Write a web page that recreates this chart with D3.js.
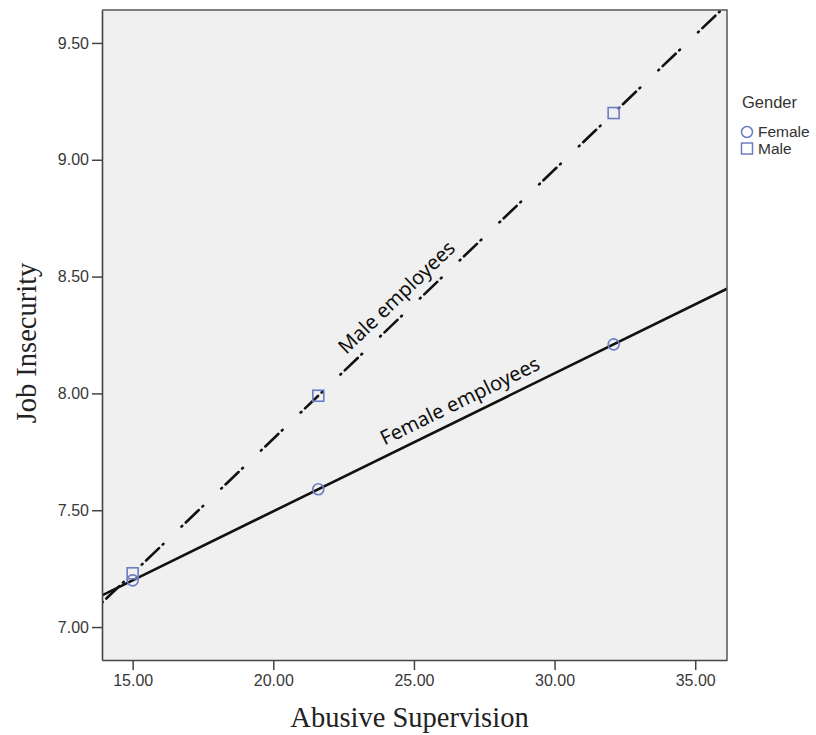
<!DOCTYPE html>
<html>
<head>
<meta charset="utf-8">
<script src="https://cdn.jsdelivr.net/npm/d3@7"></script>
<style>
  body { margin: 0; background: #fff; }
</style>
</head>
<body>
<svg id="chart"></svg>
<script>
// Data
const xLevels = [15.0, 21.6, 32.1]
const femaleValues = [7.20, 7.59, 8.21]
const maleValues = [7.23, 7.99, 9.20]
const xTicks = [15, 20, 25, 30, 35]
const yTicks = [7.0, 7.5, 8.0, 8.5, 9.0, 9.5]
const legendLabels = ["Female", "Male"]

const width = 816
const height = 735
const plot = { left: 102, top: 10, right: 727, bottom: 660 }
const markerColor = "#6c7cc4"

const svg = d3.select("#chart")
  .attr("width", width)
  .attr("height", height)

const x = d3.scaleLinear().domain([13.91, 36.13]).range([plot.left, plot.right])
const y = d3.scaleLinear().domain([6.859, 9.641]).range([plot.bottom, plot.top])

// Plot background
svg.append("rect")
  .attr("x", plot.left)
  .attr("y", plot.top)
  .attr("width", plot.right - plot.left)
  .attr("height", plot.bottom - plot.top)
  .attr("fill", "#f0f0f0")

svg.append("clipPath")
  .attr("id", "clip")
  .append("rect")
  .attr("x", plot.left)
  .attr("y", plot.top)
  .attr("width", plot.right - plot.left)
  .attr("height", plot.bottom - plot.top)

// least squares fit for each group
function fit(xs, ys) {
  const mx = d3.mean(xs), my = d3.mean(ys)
  const b = d3.sum(xs, (v, i) => (v - mx) * (ys[i] - my)) / d3.sum(xs, v => (v - mx) ** 2)
  return { a: my - b * mx, b }
}

const groups = [
  { name: "Female", values: femaleValues, dash: null, label: "Female employees", at: 26.9 },
  { name: "Male", values: maleValues, dash: "1,5,18,5,1,25", label: "Male employees", at: 24.8 }
]

const lineLayer = svg.append("g").attr("clip-path", "url(#clip)")

groups.forEach(g => {
  const f = fit(xLevels, g.values)
  const dom = x.domain()
  const ends = dom.map(v => [v, f.a + f.b * v])

  lineLayer.append("path")
    .datum(ends)
    .attr("d", d3.line().x(d => x(d[0])).y(d => y(d[1])))
    .attr("fill", "none")
    .attr("stroke", "#111")
    .attr("stroke-width", 2.6)
    .attr("stroke-linecap", "round")
    .attr("stroke-dasharray", g.dash)

  // label along the line
  const px = x(g.at), py = y(f.a + f.b * g.at)
  const angle = Math.atan2(y(f.a + f.b * (g.at + 1)) - py, x(g.at + 1) - px) * 180 / Math.PI
  svg.append("text")
    .attr("transform", `translate(${px},${py}) rotate(${angle})`)
    .attr("y", -10)
    .attr("text-anchor", "middle")
    .attr("font-family", "'Noto Sans', sans-serif")
    .attr("font-size", 20)
    .attr("fill", "#111")
    .text(g.label)
})

// Markers
const pts = svg.append("g")
pts.selectAll("circle")
  .data(xLevels.map((v, i) => [v, femaleValues[i]]))
  .join("circle")
  .attr("cx", d => x(d[0]))
  .attr("cy", d => y(d[1]))
  .attr("r", 5.5)
  .attr("fill", "none")
  .attr("stroke", markerColor)
  .attr("stroke-width", 1.6)

pts.selectAll("rect")
  .data(xLevels.map((v, i) => [v, maleValues[i]]))
  .join("rect")
  .attr("x", d => x(d[0]) - 5.5)
  .attr("y", d => y(d[1]) - 5.5)
  .attr("width", 11)
  .attr("height", 11)
  .attr("fill", "none")
  .attr("stroke", markerColor)
  .attr("stroke-width", 1.6)

// Frame (top and right)
svg.append("path")
  .attr("d", `M${plot.left},${plot.top}H${plot.right}V${plot.bottom}`)
  .attr("fill", "none")
  .attr("stroke", "#555")
  .attr("stroke-width", 1.5)

// Axes
svg.append("g")
  .attr("transform", `translate(0,${plot.bottom})`)
  .call(d3.axisBottom(x)
    .tickValues(xTicks)
    .tickFormat(d3.format(".2f"))
    .tickSize(10)
    .tickSizeOuter(0)
    .tickPadding(5))
  .call(g => g.select(".domain").attr("stroke", "#444").attr("stroke-width", 1.6))
  .call(g => g.selectAll(".tick line").attr("stroke", "#444").attr("stroke-width", 1.5))
  .call(g => g.selectAll(".tick text")
    .attr("font-family", "'Liberation Sans', Arial, sans-serif")
    .attr("font-size", 16)
    .attr("fill", "#383838"))

svg.append("g")
  .attr("transform", `translate(${plot.left},0)`)
  .call(d3.axisLeft(y)
    .tickValues(yTicks)
    .tickFormat(d3.format(".2f"))
    .tickSize(10)
    .tickSizeOuter(0)
    .tickPadding(3))
  .call(g => g.select(".domain").attr("stroke", "#444").attr("stroke-width", 1.6))
  .call(g => g.selectAll(".tick line").attr("stroke", "#444").attr("stroke-width", 1.5))
  .call(g => g.selectAll(".tick text")
    .attr("font-family", "'Liberation Sans', Arial, sans-serif")
    .attr("font-size", 16)
    .attr("fill", "#383838"))

// Axis titles
svg.append("text")
  .attr("x", (plot.left + plot.right) / 2 - 5)
  .attr("y", 727)
  .attr("text-anchor", "middle")
  .attr("font-family", "'Liberation Serif', 'Times New Roman', serif")
  .attr("font-size", 28.5)
  .attr("fill", "#222")
  .text("Abusive Supervision")

svg.append("text")
  .attr("transform", `translate(36,343) rotate(-90)`)
  .attr("text-anchor", "middle")
  .attr("font-family", "'Liberation Serif', 'Times New Roman', serif")
  .attr("font-size", 28.5)
  .attr("fill", "#222")
  .text("Job Insecurity")

// Legend
const legend = svg.append("g").attr("transform", "translate(742,0)")
legend.append("text")
  .attr("x", 0)
  .attr("y", 108)
  .attr("font-family", "'Liberation Sans', Arial, sans-serif")
  .attr("font-size", 16.5)
  .attr("fill", "#333")
  .text("Gender")

legend.selectAll("g.item")
  .data(legendLabels)
  .join("g")
  .attr("class", "item")
  .attr("transform", (d, i) => `translate(5,${132 + i * 16.5})`)
  .each(function(d, i) {
    const item = d3.select(this)
    if (i === 0) {
      item.append("circle").attr("r", 5.5)
    } else {
      item.append("rect").attr("x", -5.5).attr("y", -5.5).attr("width", 11).attr("height", 11)
    }
    item.select(":first-child")
      .attr("fill", "none")
      .attr("stroke", markerColor)
      .attr("stroke-width", 1.5)
    item.append("text")
      .attr("x", 11)
      .attr("y", 5)
      .attr("font-family", "'Liberation Sans', Arial, sans-serif")
      .attr("font-size", 15.5)
      .attr("fill", "#333")
      .text(d)
  })
</script>
</body>
</html>
